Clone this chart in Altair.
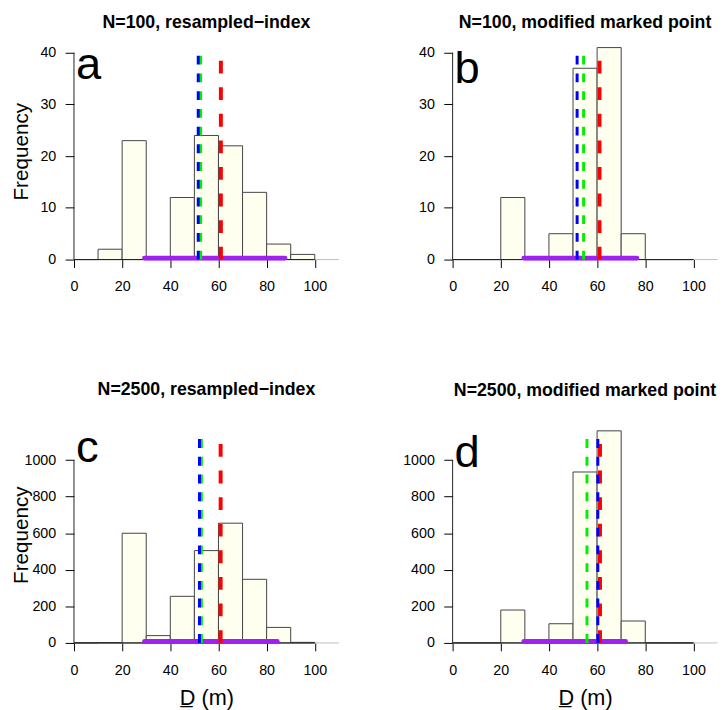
import altair as alt
import pandas as pd

FONT = "Liberation Sans"

# ---- data ----
BIN_LO = [0, 10, 20, 30, 40, 50, 60, 70, 80, 90]
BIN_HI = [10, 20, 30, 40, 50, 60, 70, 80, 90, 100]
COUNTS_A = [0, 2, 23, 0, 12, 24, 22, 13, 3, 1]
COUNTS_B = [0, 0, 12, 0, 5, 37, 41, 5, 0, 0]
COUNTS_C = [0, 2, 600, 40, 255, 505, 655, 348, 85, 3]
COUNTS_D = [0, 0, 180, 0, 105, 935, 1160, 120, 0, 0]

TITLES = [
    "N=100, resampled\u2212index",
    "N=100, modified marked point",
    "N=2500, resampled\u2212index",
    "N=2500, modified marked point",
]
LETTERS = ["a", "b", "c", "d"]
BLUE_X = [51.6, 51.7, 52.1, 60.3]
GREEN_X = [52.6, 54.4, 52.9, 55.8]
RED_X = [61.0, 61.0, 60.9, 61.2]
PURPLE_LO = [29.3, 29.6, 29.3, 29.6]
PURPLE_HI = [87.6, 76.5, 84.4, 71.8]
X_TICKS = [0, 20, 40, 60, 80, 100]
Y_TICKS_SMALL = [0, 10, 20, 30, 40]
Y_TICKS_LARGE = [0, 200, 400, 600, 800, 1000]
X_LABEL = "D\u0332 (m)"
Y_LABEL = "Frequency"

# ---- style / layout constants ----
PLOT_W = 269
PLOT_H = 220
LETTER_X = 0.8


def panel(i):
    big = i >= 2
    counts = [COUNTS_A, COUNTS_B, COUNTS_C, COUNTS_D][i]
    yticks = Y_TICKS_LARGE if big else Y_TICKS_SMALL
    ymax = 1185 if big else 41.9
    top_bg = 1122 if big else 39.5
    top_red = 1092 if big else 38.5
    letter_y = [34.9, 34.2, 991, 964][i]

    xs = alt.Scale(domain=[0, 110], nice=False, zero=False)
    ys = alt.Scale(domain=[0, ymax], nice=False, zero=False)
    xaxis = alt.Axis(values=X_TICKS, domain=False, grid=False, ticks=True,
                     tickSize=8, tickColor="black", tickWidth=1,
                     labelFont=FONT, labelFontSize=14.5, labelColor="black",
                     labelPadding=12.6, labelFlush=False, labelOverlap=False,
                     titleFont=FONT, titleFontSize=22, titleFontWeight="normal",
                     titleColor="black", titlePadding=11)
    yaxis = alt.Axis(values=yticks, format="d", domain=False, grid=False, ticks=True,
                     tickSize=9, tickColor="black", tickWidth=1,
                     labelFont=FONT, labelFontSize=14.5, labelColor="black",
                     labelPadding=9.5, labelAngle=0, labelOverlap=False,
                     titleFont=FONT, titleFontSize=21, titleFontWeight="normal",
                     titleColor="black", titleAngle=270, titleX=-47.2,
                     titleBaseline="alphabetic")
    xt = X_LABEL if big else None
    yt = Y_LABEL if i % 2 == 0 else None

    def X(f):
        return alt.X(f, type="quantitative", scale=xs, axis=xaxis, title=xt)

    def Y(f):
        return alt.Y(f, type="quantitative", scale=ys, axis=yaxis, title=yt)

    bars = pd.DataFrame({"lo": BIN_LO, "hi": BIN_HI, "n": counts,
                         "zero": [0] * len(BIN_LO)})
    base_gray = pd.DataFrame({"x0": [0], "x1": [110], "y0": [0]})
    xline = pd.DataFrame({"x0": [X_TICKS[0]], "x1": [X_TICKS[-1]], "y0": [0]})
    yline = pd.DataFrame({"x0": [0], "y0": [0], "y1": [yticks[-1]]})
    purple = pd.DataFrame({"x0": [PURPLE_LO[i]], "x1": [PURPLE_HI[i]], "y0": [0]})
    red = pd.DataFrame({"v": [RED_X[i]], "y0": [0], "y1": [top_red]})
    green = pd.DataFrame({"v": [GREEN_X[i]], "y0": [0], "y1": [top_bg]})
    blue = pd.DataFrame({"v": [BLUE_X[i]], "y0": [0], "y1": [top_bg]})
    letter = pd.DataFrame({"x": [LETTER_X], "y": [letter_y], "t": [LETTERS[i]]})

    layers = [
        alt.Chart(base_gray).mark_rule(color="#BEBEBE", strokeWidth=1)
        .encode(x=X("x0"), x2="x1", y=Y("y0")),
        alt.Chart(bars).mark_rect(fill="#C8C8C8", xOffset=1.5)
        .encode(x=X("lo"), x2="hi", y=Y("n"), y2="zero"),
        alt.Chart(bars).mark_rect(fill="#FFFFF0", stroke="#444444", strokeWidth=1)
        .encode(x=X("lo"), x2="hi", y=Y("n"), y2="zero"),
        alt.Chart(xline).mark_rule(color="#222222", strokeWidth=1)
        .encode(x=X("x0"), x2="x1", y=Y("y0")),
        alt.Chart(yline).mark_rule(color="#222222", strokeWidth=1)
        .encode(x=X("x0"), y=Y("y0"), y2="y1"),
        alt.Chart(purple).mark_rule(color="#A020F0", strokeWidth=5,
                                    strokeCap="round", yOffset=-1.5)
        .encode(x=X("x0"), x2="x1", y=Y("y0")),
        alt.Chart(red).mark_rule(color="#FF0000", strokeWidth=4, strokeDash=[13, 14])
        .encode(x=X("v"), y=Y("y0"), y2="y1"),
        alt.Chart(green).mark_rule(color="#00EE00", strokeWidth=3, strokeDash=[9, 9])
        .encode(x=X("v"), y=Y("y0"), y2="y1"),
        alt.Chart(blue).mark_rule(color="#0000FF", strokeWidth=3, strokeDash=[9, 9])
        .encode(x=X("v"), y=Y("y0"), y2="y1"),
        alt.Chart(letter).mark_text(font=FONT, fontSize=46, align="left",
                                    baseline="alphabetic", color="black")
        .encode(x=X("x"), y=Y("y"), text="t:N"),
    ]
    title = alt.TitleParams(text=TITLES[i], font=FONT, fontSize=18,
                            fontWeight="bold", color="black", anchor="middle",
                            frame="group", baseline="alphabetic",
                            offset=13.0 if big else -2.8)
    return alt.layer(*layers).properties(width=PLOT_W, height=PLOT_H, title=title)


chart = alt.concat(panel(0), panel(1), panel(2), panel(3), columns=2,
                   spacing={"row": 88.3, "column": 63.5}).properties(
    padding={"left": 2, "top": 0, "right": 0, "bottom": 0}, background="white"
).configure_view(stroke=None)

chart.save("out.html", embed_options={"renderer": "svg", "actions": False})
